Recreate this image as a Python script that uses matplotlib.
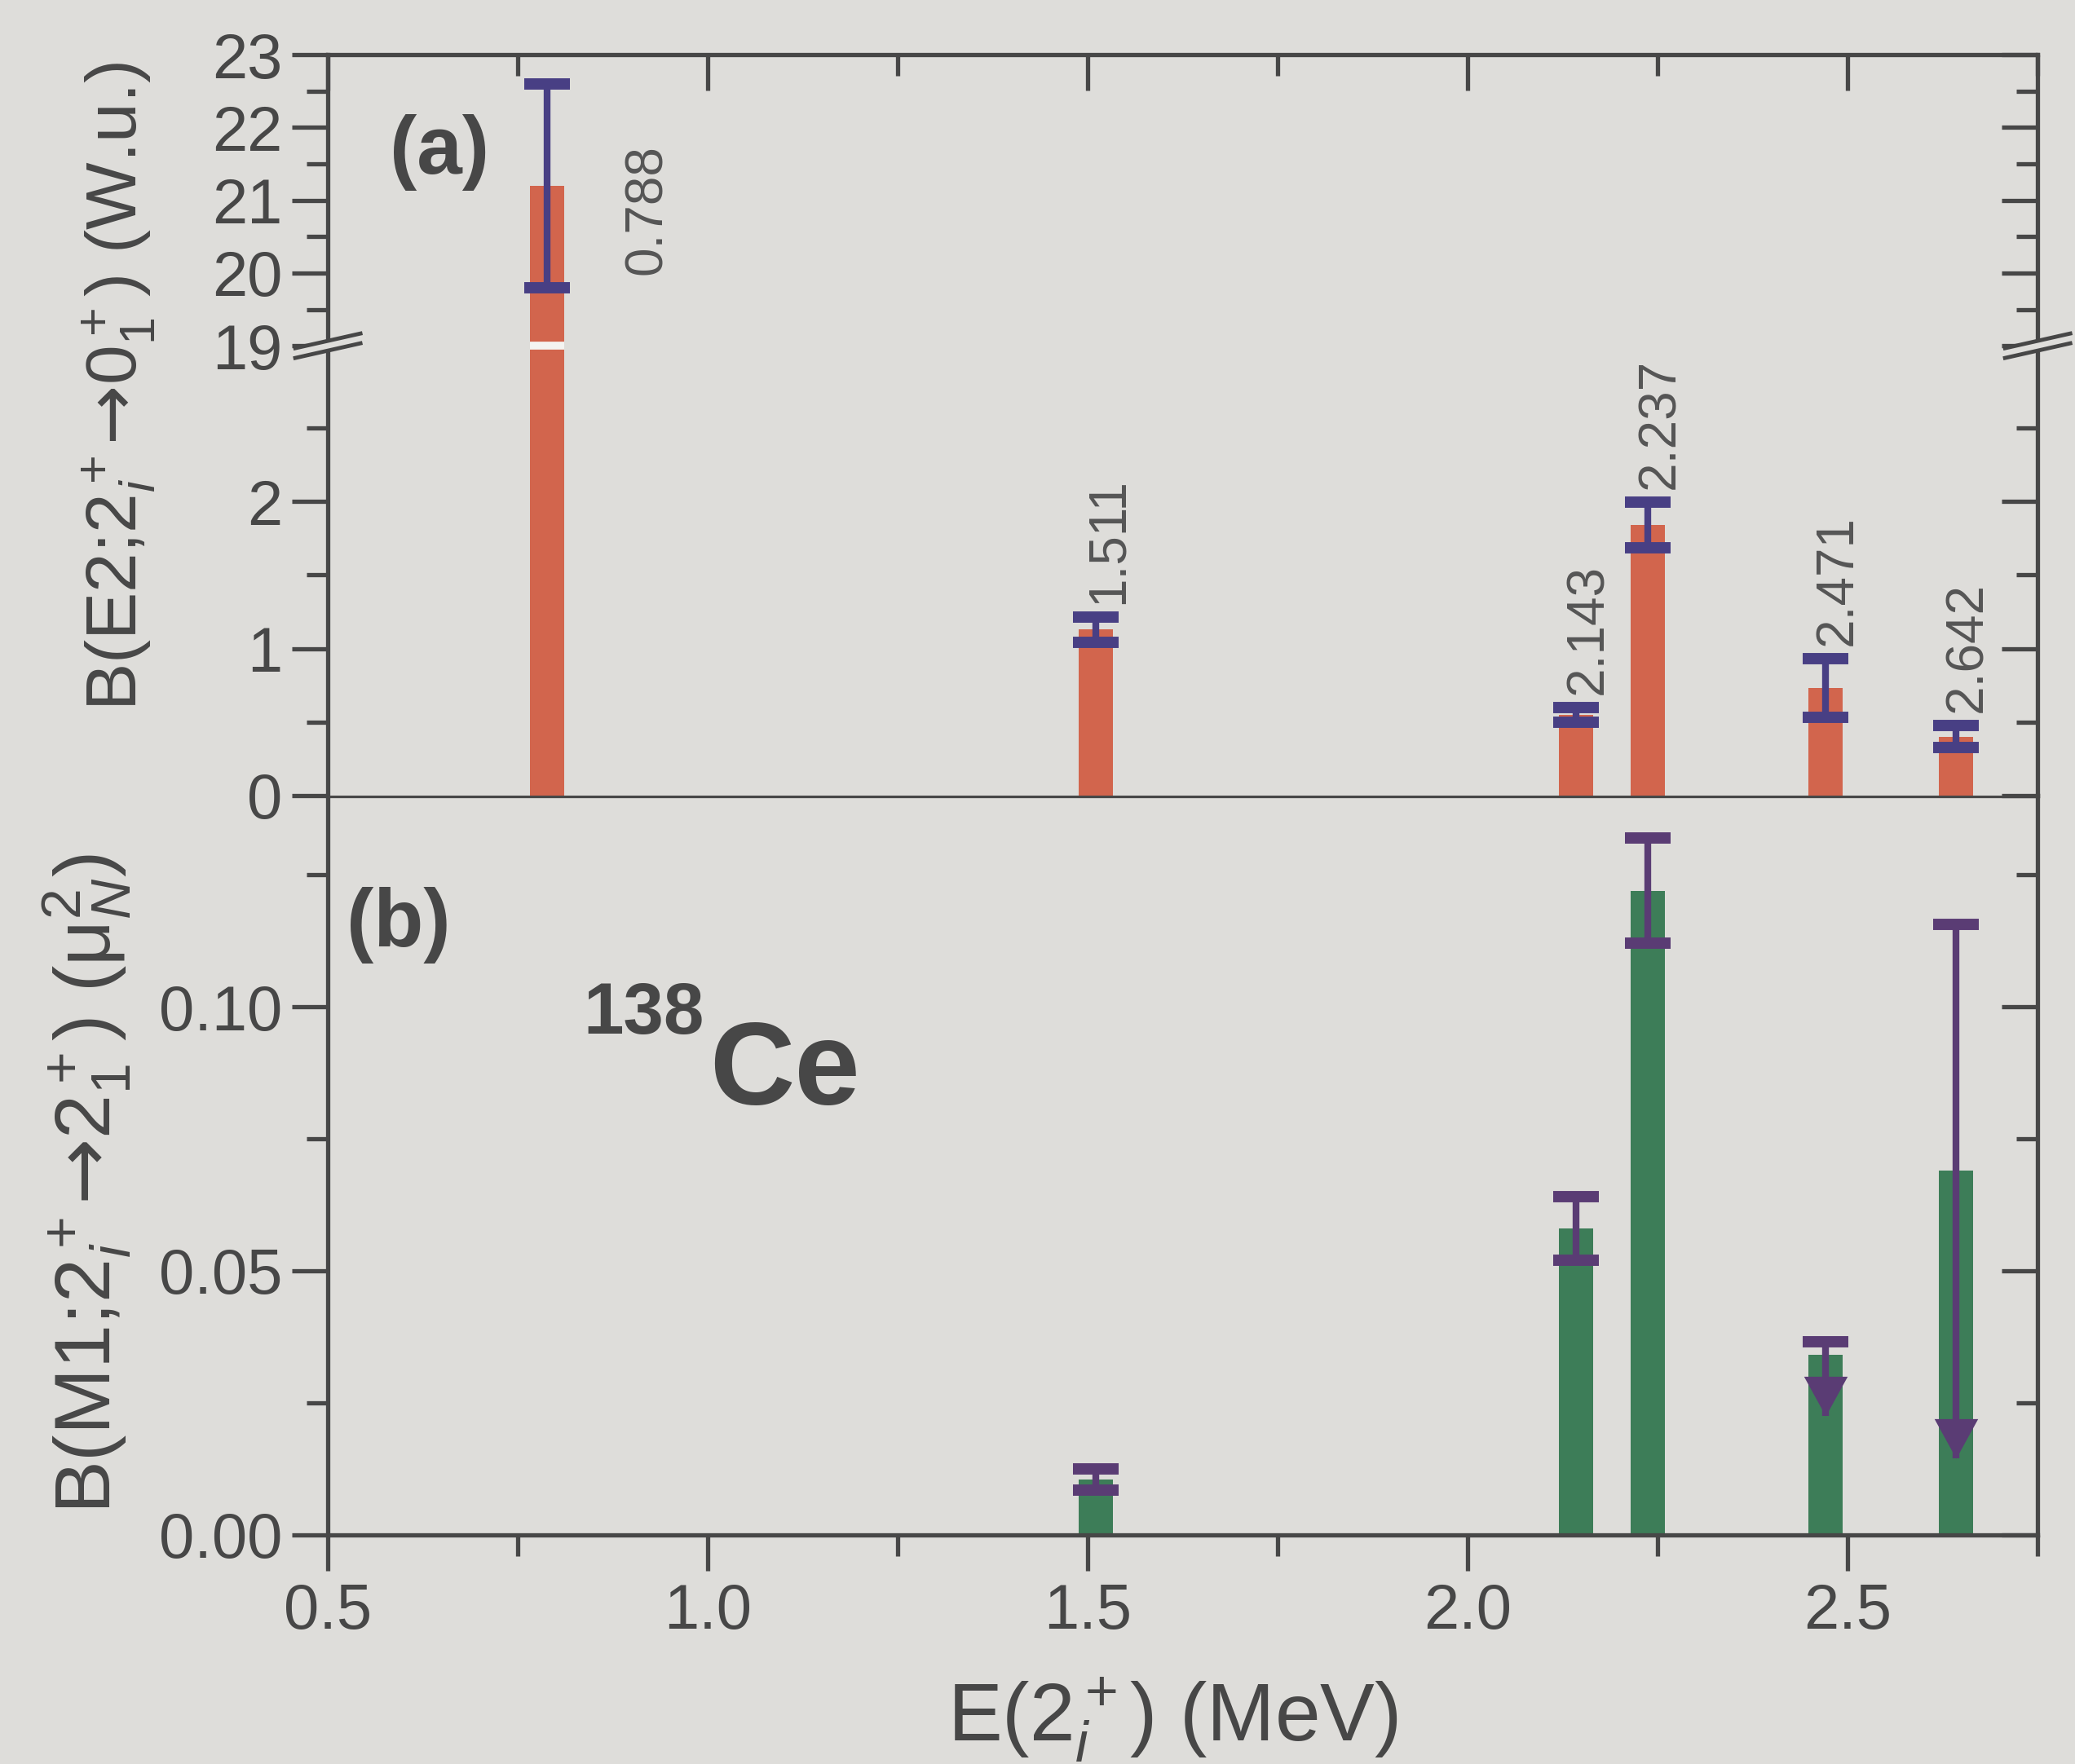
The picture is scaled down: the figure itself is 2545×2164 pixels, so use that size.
import numpy as np
import matplotlib.pyplot as plt
from matplotlib.ticker import MultipleLocator, FixedLocator, FormatStrFormatter
from matplotlib.path import Path
from matplotlib.lines import Line2D
from matplotlib.patches import Polygon

plt.rcParams['font.family'] = ['Liberation Sans', 'DejaVu Sans']
plt.rcParams['mathtext.fontset'] = 'custom'
plt.rcParams['mathtext.rm'] = 'Liberation Sans'
plt.rcParams['mathtext.it'] = 'Liberation Sans:italic'
plt.rcParams['mathtext.bf'] = 'Liberation Sans:bold'
plt.rcParams['mathtext.sf'] = 'DejaVu Sans'

# panel (a): B(E2) strengths in W.u.
e2_energy = [0.788, 1.511, 2.143, 2.237, 2.471, 2.642]
e2_value = [21.2, 1.13, 0.55, 1.84, 0.73, 0.40]
e2_error = [1.4, 0.085, 0.05, 0.155, 0.20, 0.075]
e2_labels = ['0.788', '1.511', '2.143', '2.237', '2.471', '2.642']

# panel (b): B(M1) strengths in mu_N^2
m1_energy = [1.511, 2.143, 2.237]
m1_value = [0.0105, 0.058, 0.122]
m1_error = [0.002, 0.006, 0.010]

# panel (b): upper limits (bar, cap of the limit, tip of the arrow)
lim_energy = [2.471, 2.642]
lim_value = [0.034, 0.069]
lim_top = [0.0365, 0.1156]
lim_tip = [0.0225, 0.0145]

# tick values
up_major = [19, 20, 21, 22, 23]
up_minor = [19.5, 20.5, 21.5, 22.5]
lo_major = [0, 1, 2]
lo_minor = [0.5, 1.5, 2.5]
b_major = [0.00, 0.05, 0.10]
b_minor = [0.025, 0.075, 0.125]

bg = '#dedddA'
ink = '#474747'
orange = '#d2654d'
green = '#3d7d58'
navy = '#483f84'
purple = '#5a3c74'
bar_w = 0.045
lo_top = 3.06

fig = plt.figure(figsize=(25.45, 21.64), dpi=100, facecolor=bg)
L, R = 0.158, 0.982
ax_b = fig.add_axes([L, 0.130, R - L, 0.549 - 0.130])
ax_lo = fig.add_axes([L, 0.549, R - L, 0.804 - 0.549])
ax_up = fig.add_axes([L, 0.804, R - L, 0.969 - 0.804])


def style(ax, ymaj, ymin, fmt):
    ax.set_facecolor(bg)
    ax.set_xlim(0.5, 2.75)
    for sp in ax.spines.values():
        sp.set_linewidth(3.8)
        sp.set_color(ink)
    ax.yaxis.set_major_locator(FixedLocator(ymaj))
    ax.yaxis.set_minor_locator(FixedLocator(ymin))
    ax.yaxis.set_major_formatter(FormatStrFormatter(fmt))
    ax.xaxis.set_major_locator(MultipleLocator(0.5))
    ax.xaxis.set_minor_locator(MultipleLocator(0.25))
    ax.tick_params(axis='y', which='both', direction='out', left=True, right=False,
                   width=3.8, color=ink, labelcolor=ink, labelsize=56, pad=8)
    ax.tick_params(axis='y', which='major', length=32)
    ax.tick_params(axis='y', which='minor', length=19)
    # right-hand ticks point inwards
    tw = ax.twinx()
    tw.set_ylim(ax.get_ylim())
    tw.yaxis.set_major_locator(FixedLocator(ymaj))
    tw.yaxis.set_minor_locator(FixedLocator(ymin))
    tw.tick_params(axis='y', which='both', direction='in', width=3.8, color=ink,
                   labelright=False)
    tw.tick_params(axis='y', which='major', length=32)
    tw.tick_params(axis='y', which='minor', length=19)
    for sp in tw.spines.values():
        sp.set_visible(False)


ax_up.set_ylim(19, 23)
ax_lo.set_ylim(0, lo_top)
ax_b.set_ylim(0, 0.14)
style(ax_up, up_major, up_minor, '%d')
style(ax_lo, lo_major, lo_minor, '%d')
style(ax_b, b_major, b_minor, '%.2f')

ax_up.spines['bottom'].set_visible(False)
ax_up.tick_params(axis='x', which='both', bottom=False, top=True, direction='in',
                  labelbottom=False, width=3.8, color=ink)
ax_up.tick_params(axis='x', which='major', length=32)
ax_up.tick_params(axis='x', which='minor', length=19)
ax_lo.spines['top'].set_visible(False)
ax_lo.spines['bottom'].set_visible(False)
ax_lo.tick_params(axis='x', which='both', bottom=False, top=False, labelbottom=False)
ax_b.tick_params(axis='x', which='both', bottom=True, top=False, direction='out',
                 width=3.8, color=ink, labelcolor=ink, labelsize=56, pad=10)
ax_b.tick_params(axis='x', which='major', length=32)
ax_b.tick_params(axis='x', which='minor', length=19)

# panel (a) bars, drawn in both halves of the broken axis
for ax in (ax_up, ax_lo):
    ax.bar(e2_energy, e2_value, width=bar_w, color=orange, zorder=2)
    ax.errorbar(e2_energy, e2_value, yerr=e2_error, fmt='none', ecolor=navy,
                elinewidth=6, capsize=20, capthick=10, zorder=3)

# white gap through bars that cross the break
for e, v in zip(e2_energy, e2_value):
    if v > lo_top:
        ax_up.hlines(19, e - bar_w / 2, e + bar_w / 2, color='#f4f4f2', lw=7,
                     clip_on=False, zorder=4)

# value labels
for e, v, err, lab in zip(e2_energy, e2_value, e2_error, e2_labels):
    if v + err < lo_top:
        ax_lo.text(e + 0.016, v + err + 0.09, lab, rotation=90, ha='center', va='bottom',
                   fontsize=46, color='#555555')
    else:
        ax_up.text(e + 0.132, v - 0.33, lab, rotation=90, ha='center', va='center',
                   fontsize=46, color='#555555')

# panel (b)
ax_b.bar(m1_energy + lim_energy, m1_value + lim_value, width=bar_w, color=green, zorder=2)
ax_b.errorbar(m1_energy, m1_value, yerr=m1_error, fmt='none', ecolor=purple,
              elinewidth=6, capsize=20, capthick=10, zorder=3)
ax_b.vlines(lim_energy, lim_tip, lim_top, color=purple, lw=6, zorder=3)
ax_b.plot(lim_energy, lim_top, ls='none', marker='_', ms=40, mew=10, color=purple, zorder=3)
head = Path([(-0.55, 1.0), (0.55, 1.0), (0.0, 0.0), (-0.55, 1.0)],
            [Path.MOVETO, Path.LINETO, Path.LINETO, Path.CLOSEPOLY])
ax_b.plot(lim_energy, lim_tip, ls='none', marker=head, ms=70, mew=0, color=purple, zorder=4)

# broken-axis marks
W, H = fig.get_size_inches() * fig.dpi
yb = 0.804
for xf in (L, R):
    dx, dy, g = 40 / W, 9 / H, 6 / H
    xs = [xf - dx, xf + dx]
    poly = Polygon([(xs[0], yb - dy - g), (xs[1], yb + dy - g),
                    (xs[1], yb + dy + g), (xs[0], yb - dy + g)],
                   closed=True, transform=fig.transFigure, facecolor=bg, edgecolor='none',
                   zorder=10)
    fig.add_artist(poly)
    for s in (-1, 1):
        fig.add_artist(Line2D(xs, [yb - dy + s * g, yb + dy + s * g], lw=3.5, color=ink,
                              transform=fig.transFigure, zorder=11))

# texts
fig.text(0.188, 0.9136, '(a)', fontsize=72, fontweight='bold', color=ink, va='center')
fig.text(0.167, 0.4755, '(b)', fontsize=72, fontweight='bold', color=ink, va='center')
fig.text(0.281, 0.414, '138', fontsize=64, fontweight='bold', color=ink, va='baseline')
fig.text(0.342, 0.374, 'Ce', fontsize=104, fontweight='bold', color=ink, va='baseline')

fig.text(0.057, 0.781, 'B(E2;2$_i^+$$\\mathsf{\u2192}$0$_1^+$) (W.u.)', rotation=90,
         fontsize=63, color=ink, ha='center', va='center')
fig.text(0.042, 0.329, 'B(M1;2$_i^+$$\\mathsf{\u2192}$2$_1^+$) (\u03bc$_N^2$)', rotation=90,
         fontsize=70, color=ink, ha='center', va='center')
fig.text(0.565, 0.025, 'E(2$_i^+$) (MeV)', fontsize=72, color=ink, ha='center', va='center')

fig.savefig('out.png', dpi=100, facecolor=bg)
